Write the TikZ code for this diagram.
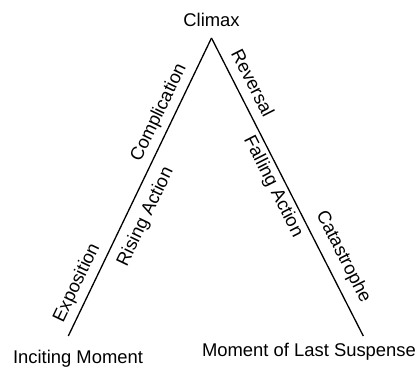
\documentclass[tikz,border=0pt]{standalone}
\usepackage{fontspec}
\setmainfont{Liberation Sans}
\usepackage{tikz}

\begin{document}
\begin{tikzpicture}[x=0.5pt,y=-0.5pt,
	plotline/.style={line width=0.65pt},
	stage/.style={font=\fontsize{9.2}{11}\selectfont,inner sep=0pt},
	arc label/.style={stage,sloped,anchor=center}]
	\useasboundingbox (0,0) rectangle (420,368);
	% corners of the triangle
	\coordinate (incite) at (68.3,336);
	\coordinate (top) at (211.5,38);
	\coordinate (suspense) at (363.3,336);
	% end labels
	\node[stage,anchor=base] (climax) at (211.5,26.7) {Climax};
	\node[stage,anchor=base] (inciting) at (78,364) {Inciting Moment};
	\node[stage,anchor=base] (lastsusp) at (309,357) {Moment of Last Suspense};
	% rising side
	\draw[plotline] (incite) -- (top)
		node[arc label,pos=0.156,yshift=7.5pt] (expo) {Exposition}
		node[arc label,pos=0.426,yshift=-9.2pt] (rising) {Rising Action}
		node[arc label,pos=0.727,yshift=7.4pt] (compl) {Complication};
	% falling side
	\draw[plotline] (top) -- (suspense)
		node[arc label,pos=0.176,yshift=8.3pt] (revers) {Reversal}
		node[arc label,pos=0.48,yshift=-6.4pt] (falling) {Falling Action}
		node[arc label,pos=0.762,yshift=8.9pt] (catas) {Catastrophe};
\end{tikzpicture}
\end{document}
